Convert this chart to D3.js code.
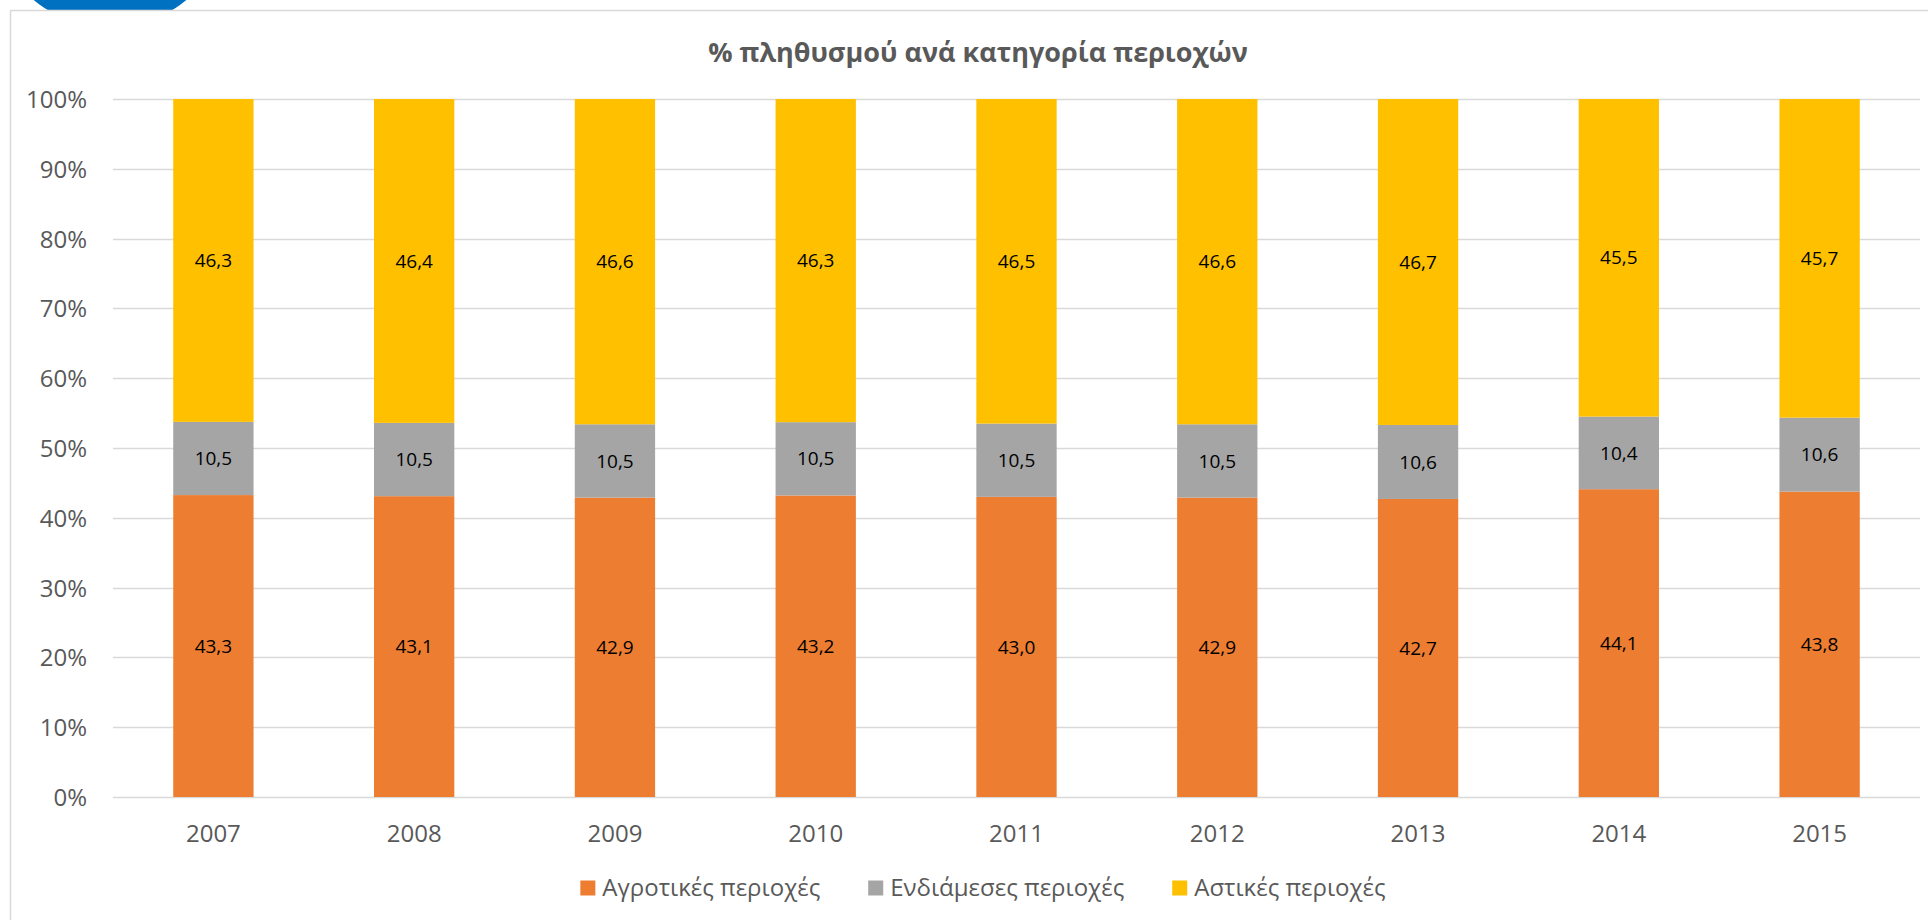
<!DOCTYPE html>
<html>
<head>
<meta charset="utf-8">
<script src="https://cdn.jsdelivr.net/npm/d3@7"></script>
<style>
  html, body { margin: 0; padding: 0; background: #fff; }
  svg { display: block; }
</style>
</head>
<body>
<svg id="chart" width="1928" height="920"></svg>
<script>
const years = ["2007", "2008", "2009", "2010", "2011", "2012", "2013", "2014", "2015"];
const seriesNames = ["Αγροτικές περιοχές", "Ενδιάμεσες περιοχές", "Αστικές περιοχές"];
const rural = [43.3, 43.1, 42.9, 43.2, 43.0, 42.9, 42.7, 44.1, 43.8];
const intermediate = [10.5, 10.5, 10.5, 10.5, 10.5, 10.5, 10.6, 10.4, 10.6];
const urban = [46.3, 46.4, 46.6, 46.3, 46.5, 46.6, 46.7, 45.5, 45.7];
const yTicks = [0, 0.1, 0.2, 0.3, 0.4, 0.5, 0.6, 0.7, 0.8, 0.9, 1.0];
const titleText = "% πληθυσμού ανά κατηγορία περιοχών";
const colors = ["#ED7D31", "#A5A5A5", "#FFC000"];

const svg = d3.select("#chart");
const W = 1928, H = 920;
const plot = { left: 113, right: 1920, top: 99, bottom: 797 };
const FONT = "'Open Sans', 'Noto Sans', sans-serif";

// decorative blue shape at top-left
svg.append("circle").attr("cx", 110).attr("cy", -90).attr("r", 118).attr("fill", "#0070C0");

// chart area
svg.append("rect").attr("x", 10.5).attr("y", 10.5).attr("width", W).attr("height", H)
  .attr("fill", "#fff").attr("stroke", "#D9D9D9").attr("stroke-width", 1.5);

// data table
const rows = years.map((y, i) => {
  const vals = [rural[i], intermediate[i], urban[i]];
  const total = d3.sum(vals);
  return { year: y, vals, total };
});

const x = d3.scaleBand().domain(years).range([plot.left, plot.right]).paddingInner(0.6).paddingOuter(0.3);
const y = d3.scaleLinear().domain([0, 1]).range([plot.bottom, plot.top]);

// gridlines
svg.append("g").selectAll("line").data(yTicks).join("line")
  .attr("x1", plot.left).attr("x2", plot.right)
  .attr("y1", d => Math.round(y(d)) + 0.5).attr("y2", d => Math.round(y(d)) + 0.5)
  .attr("stroke", "#D9D9D9").attr("stroke-width", 1.5);

// y axis labels
const yAxis = d3.axisLeft(y).tickValues(yTicks).tickFormat(d => Math.round(d * 100) + "%").tickSize(0).tickPadding(0);
const gy = svg.append("g").attr("transform", `translate(87,0)`).call(yAxis);
gy.select(".domain").remove();
gy.selectAll("text").attr("font-family", FONT).attr("font-size", 24).attr("fill", "#595959").attr("dy", "0.35em");

// x axis labels
const xAxis = d3.axisBottom(x).tickSize(0).tickPadding(0);
const gx = svg.append("g").attr("transform", `translate(0,${plot.bottom})`).call(xAxis);
gx.select(".domain").remove();
gx.selectAll("text").attr("font-family", FONT).attr("font-size", 24).attr("fill", "#595959").attr("dy", "0").attr("y", 45);

// stacked bars
const stackData = rows.map(r => {
  let acc = 0;
  return r.vals.map((v, k) => {
    const s = acc / r.total, e = (acc + v) / r.total;
    acc += v;
    return { year: r.year, k, v, s, e };
  });
}).flat();

svg.append("g").selectAll("rect").data(stackData).join("rect")
  .attr("x", d => x(d.year))
  .attr("width", x.bandwidth())
  .attr("y", d => y(d.e))
  .attr("height", d => y(d.s) - y(d.e))
  .attr("fill", d => colors[d.k]);

// data labels
const fmt = v => v.toFixed(1).replace(".", ",");
svg.append("g").selectAll("text").data(stackData).join("text")
  .attr("x", d => x(d.year) + x.bandwidth() / 2)
  .attr("y", d => (y(d.s) + y(d.e)) / 2)
  .attr("dy", "0.35em")
  .attr("text-anchor", "middle")
  .attr("font-family", FONT).attr("font-size", 19).attr("fill", "#000")
  .text(d => fmt(d.v));

// title
svg.append("text").attr("x", 978).attr("y", 62).attr("text-anchor", "middle")
  .attr("font-family", FONT).attr("font-weight", "bold").attr("font-size", 27)
  .attr("fill", "#595959").text(titleText);

// legend
const lg = svg.append("g");
const items = lg.selectAll("g").data(seriesNames).join("g");
items.append("rect").attr("width", 15).attr("height", 15).attr("y", -7.5).attr("fill", (d, i) => colors[i]);
items.append("text").attr("x", 22).attr("dy", "0.35em")
  .attr("font-family", FONT).attr("font-size", 24).attr("fill", "#595959").text(d => d);
let cx = 0;
const gap = 48;
items.each(function() {
  const w = 22 + d3.select(this).select("text").node().getComputedTextLength();
  d3.select(this).attr("data-x", cx);
  cx += w + gap;
});
const total = cx - gap;
const start = 983 - total / 2;
items.attr("transform", function() { return `translate(${start + (+this.getAttribute("data-x"))},888)`; });
</script>
</body>
</html>
